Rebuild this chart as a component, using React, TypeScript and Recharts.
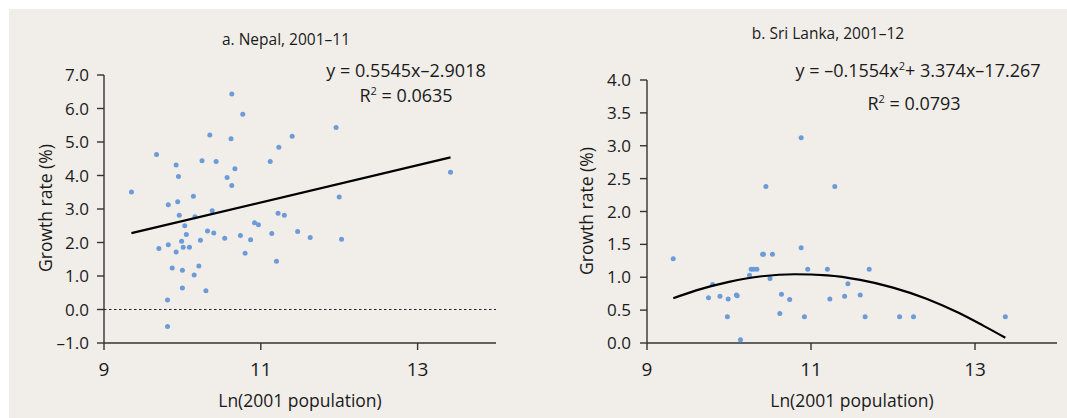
import React from 'react';
import { ScatterChart, Scatter, XAxis, YAxis, ReferenceLine } from 'recharts';

// Nepal, 2001–11: ln(2001 population) and growth rate (%)
const nepalLnPop = [
  9.35, 9.67, 9.92, 9.95, 9.82, 9.94, 10.14, 9.96, 10.03, 10.05,
  9.99, 10.01, 10.09, 9.82, 9.70, 9.92, 9.87, 10.0, 10.21, 10.15,
  10.0, 10.30, 9.81, 9.81, 10.16, 10.23, 10.32, 10.40, 10.38, 10.25,
  10.35, 10.43, 10.54, 10.57, 10.63, 10.62, 10.63, 10.67, 10.77, 10.74,
  10.80, 10.87, 10.92, 10.97, 11.12, 11.23, 11.14, 11.20, 11.22, 11.30,
  11.40, 11.96, 13.42, 12.0, 11.47, 11.63, 12.03,
];
const nepalGrowth = [
  3.51, 4.63, 4.31, 3.97, 3.13, 3.22, 3.38, 2.81, 2.50, 2.24,
  2.04, 1.86, 1.86, 1.93, 1.82, 1.72, 1.24, 1.17, 1.30, 1.03,
  0.64, 0.56, 0.28, -0.51, 2.77, 2.07, 2.34, 2.28, 2.95, 4.44,
  5.21, 4.42, 2.13, 3.94, 3.70, 5.10, 6.43, 4.20, 5.83, 2.21,
  1.68, 2.08, 2.59, 2.53, 4.42, 4.84, 2.27, 1.44, 2.87, 2.81,
  5.17, 5.43, 4.10, 3.36, 2.33, 2.15, 2.10,
];
const nepalTrendX = [9.35, 13.42];
const nepalTrendY = [2.28, 4.54];

// Sri Lanka, 2001–12
const sriLnPop = [
  9.32, 9.80, 9.75, 9.89, 9.99, 9.98, 10.09, 10.10, 10.14, 10.25,
  10.27, 10.30, 10.34, 10.41, 10.42, 10.53, 10.45, 10.50, 10.64, 10.62,
  10.74, 10.88, 10.88, 10.92, 10.96, 11.20, 11.23, 11.29, 11.71, 11.45,
  11.41, 11.60, 11.66, 12.08, 12.25, 13.37,
];
const sriGrowth = [
  1.28, 0.89, 0.69, 0.71, 0.67, 0.40, 0.73, 0.72, 0.05, 1.03,
  1.12, 1.12, 1.12, 1.35, 1.35, 1.35, 2.38, 0.98, 0.74, 0.45,
  0.66, 3.12, 1.45, 0.40, 1.12, 1.12, 0.67, 2.38, 1.12, 0.90,
  0.71, 0.73, 0.40, 0.40, 0.40, 0.40,
];
const sriTrendX = [9.32, 9.6, 10.0, 10.4, 10.8, 11.2, 11.6, 12.0, 12.4, 12.8, 13.1, 13.37];
const sriTrendY = [0.68, 0.8, 0.93, 1.015, 1.046, 1.029, 0.96, 0.843, 0.677, 0.459, 0.264, 0.08];

const xTicks = [9, 11, 13];
const nepalYTicks = [-1, 0, 1, 2, 3, 4, 5, 6, 7];
const sriYTicks = [0, 0.5, 1, 1.5, 2, 2.5, 3, 3.5, 4];

const zip = (xs: number[], ys: number[]) => xs.map((x, i) => ({ x, y: ys[i] }));
const nepalData = zip(nepalLnPop, nepalGrowth);
const nepalTrend = zip(nepalTrendX, nepalTrendY);
const sriData = zip(sriLnPop, sriGrowth);
const sriTrend = zip(sriTrendX, sriTrendY);

const FONT = '"Open Sans", sans-serif';
const DOT = '#6b9bd9';
const AXIS = '#333333';
const fmtY = (v: number) => (v < 0 ? `–${Math.abs(v).toFixed(1)}` : v.toFixed(1));

const Dot = (props: any) => {
  const { cx, cy } = props;
  if (cx == null || cy == null) return <g />;
  return <circle cx={cx} cy={cy} r={2.5} fill={DOT} />;
};
const NoDot = () => <g />;

const axisCommon = {
  axisLine: { stroke: AXIS, strokeWidth: 1.4 },
  tickLine: { stroke: AXIS, strokeWidth: 1.4 },
  tickSize: 7,
};

export default function App() {
  return (
    <div style={{ position: 'absolute', left: 0, top: 0, width: 1067, height: 418, background: '#ffffff', fontFamily: FONT }}>
      <div style={{ position: 'absolute', left: 9, top: 9, width: 1058, height: 409, background: '#f1eeea' }} />
      <div style={{ position: 'absolute', left: 0, top: 0 }}>
        <ScatterChart width={520} height={418} margin={{ top: 75, right: 24, bottom: 45, left: 44 }}>
          <XAxis
            type="number"
            dataKey="x"
            domain={[9, 14]}
            ticks={xTicks}
            allowDataOverflow
            {...axisCommon}
            tickMargin={13}
            tick={{ fill: '#1a1a1a', fontSize: 19, fontFamily: FONT }}
          />
          <YAxis
            type="number"
            dataKey="y"
            domain={[-1, 7]}
            ticks={nepalYTicks}
            allowDataOverflow
            width={60}
            {...axisCommon}
            tickMargin={8}
            tickFormatter={fmtY}
            tick={{ fill: '#1a1a1a', fontSize: 17, fontFamily: FONT }}
          />
          <ReferenceLine y={0} stroke="#222" strokeWidth={1.2} strokeDasharray="2.5 2.5" />
          <Scatter data={nepalData} shape={Dot} isAnimationActive={false} />
          <Scatter
            data={nepalTrend}
            shape={NoDot}
            line={{ stroke: '#000', strokeWidth: 2.2 }}
            lineJointType="linear"
            isAnimationActive={false}
          />
        </ScatterChart>
      </div>
      <div style={{ position: 'absolute', left: 540, top: 0 }}>
        <ScatterChart width={527} height={418} margin={{ top: 80, right: 10, bottom: 45, left: 47 }}>
          <XAxis
            type="number"
            dataKey="x"
            domain={[9, 14]}
            ticks={xTicks}
            allowDataOverflow
            {...axisCommon}
            tickMargin={13}
            tick={{ fill: '#1a1a1a', fontSize: 19, fontFamily: FONT }}
          />
          <YAxis
            type="number"
            dataKey="y"
            domain={[0, 4]}
            ticks={sriYTicks}
            allowDataOverflow
            width={60}
            {...axisCommon}
            tickMargin={9}
            tickFormatter={fmtY}
            tick={{ fill: '#1a1a1a', fontSize: 17, fontFamily: FONT }}
          />
          <Scatter data={sriData} shape={Dot} isAnimationActive={false} />
          <Scatter
            data={sriTrend}
            shape={NoDot}
            line={{ stroke: '#000', strokeWidth: 2.2 }}
            lineJointType="monotoneX"
            isAnimationActive={false}
          />
        </ScatterChart>
      </div>
      <svg
        width={1067}
        height={418}
        style={{ position: 'absolute', left: 0, top: 0, pointerEvents: 'none' }}
        fontFamily={FONT}
        fill="#1a1a1a"
      >
        <text x={286} y={45} fontSize={15.5} textAnchor="middle">a. Nepal, 2001–11</text>
        <text x={828} y={39} fontSize={15.5} textAnchor="middle">b. Sri Lanka, 2001–12</text>

        <text x={406} y={77} fontSize={18} textAnchor="middle">y = 0.5545x–2.9018</text>
        <text x={406} y={102} fontSize={18} textAnchor="middle">
          R<tspan fontSize={11} dy={-7}>2</tspan><tspan dy={7}> = 0.0635</tspan>
        </text>

        <text x={918} y={77} fontSize={18} textAnchor="middle">
          y = –0.1554x<tspan fontSize={11} dy={-7}>2</tspan><tspan dy={7}>+ 3.374x–17.267</tspan>
        </text>
        <text x={914} y={110} fontSize={18} textAnchor="middle">
          R<tspan fontSize={11} dy={-7}>2</tspan><tspan dy={7}> = 0.0793</tspan>
        </text>

        <text x={300} y={407} fontSize={17.5} textAnchor="middle">Ln(2001 population)</text>
        <text x={852} y={407} fontSize={17.5} textAnchor="middle">Ln(2001 population)</text>

        <text x={52} y={208} fontSize={17.5} textAnchor="middle" transform="rotate(-90 52 208)">Growth rate (%)</text>
        <text x={593} y={211} fontSize={17.5} textAnchor="middle" transform="rotate(-90 593 211)">Growth rate (%)</text>
      </svg>
    </div>
  );
}
